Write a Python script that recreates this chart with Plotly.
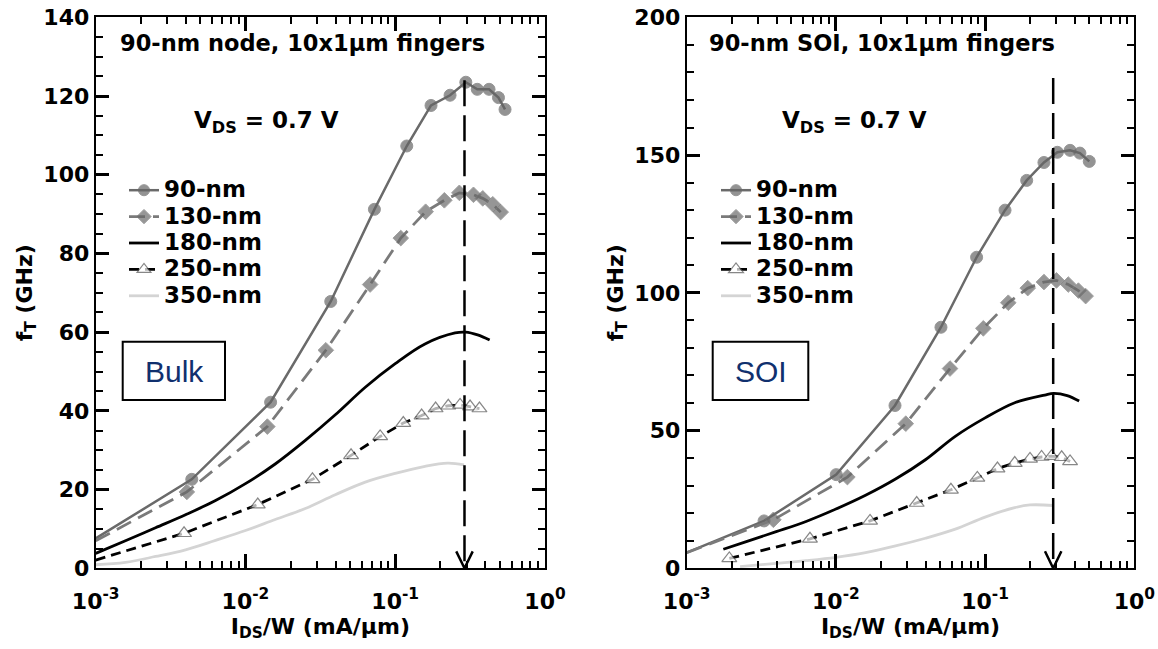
import plotly.graph_objects as go

W, H = 1158, 649

# ---------------- data: Bulk (left panel) ----------------
b90_x = [0.001, 0.00438, 0.01472, 0.0371, 0.0726, 0.1194, 0.1734, 0.2323, 0.296, 0.353, 0.423, 0.489, 0.541]
b90_y = [7.6, 22.6, 42.2, 67.8, 91.2, 107.3, 117.6, 120.2, 123.5, 121.7, 121.7, 119.6, 116.6]

b130_x = [0.001, 0.00406, 0.0140, 0.0344, 0.0680, 0.1089, 0.1596, 0.2128, 0.268, 0.333, 0.384, 0.448, 0.506]
b130_y = [7.0, 19.4, 36.0, 55.4, 72.1, 83.9, 90.6, 93.5, 95.4, 94.9, 94.0, 92.5, 90.5]

b180_x = [0.001, 0.00158, 0.00251, 0.00398, 0.00631, 0.01, 0.0158, 0.0251, 0.0398, 0.0631, 0.1, 0.158, 0.251, 0.295, 0.355, 0.427]
b180_y = [3.8, 7.0, 10.3, 13.6, 17.2, 21.5, 26.5, 32.5, 39.0, 46.0, 52.0, 57.0, 59.8, 60.0, 59.3, 58.0]

b250_x = [0.001, 0.00389, 0.01208, 0.0280, 0.0507, 0.0793, 0.1132, 0.150, 0.186, 0.226, 0.271, 0.316, 0.365]
b250_y = [2.1, 8.9, 16.2, 22.6, 28.7, 33.5, 36.9, 38.8, 40.6, 41.3, 41.5, 41.1, 40.6]

b350_x = [0.001, 0.00158, 0.00251, 0.00398, 0.00631, 0.01, 0.0158, 0.0251, 0.0398, 0.0631, 0.1, 0.158, 0.224, 0.288]
b350_y = [0.9, 1.5, 3.0, 4.7, 7.1, 9.6, 12.4, 15.2, 18.7, 21.9, 24.1, 25.9, 26.7, 26.3]

# ---------------- data: SOI (right panel) ----------------
s90_x = [0.001, 0.00330, 0.01005, 0.0249, 0.0506, 0.0877, 0.136, 0.190, 0.248, 0.305, 0.371, 0.432, 0.499]
s90_y = [5.7, 17.2, 34.0, 59.1, 87.5, 112.9, 130.0, 140.8, 147.3, 151.0, 151.7, 150.7, 147.7]

s130_x = [0.001, 0.00381, 0.01194, 0.0294, 0.0582, 0.0973, 0.143, 0.193, 0.248, 0.301, 0.361, 0.422, 0.472]
s130_y = [5.7, 17.6, 33.1, 52.5, 72.5, 87.1, 96.4, 101.7, 103.9, 104.5, 103.0, 100.8, 98.8]

s180_x = [0.00176, 0.00251, 0.00398, 0.00631, 0.01, 0.0158, 0.0251, 0.0398, 0.0631, 0.1, 0.158, 0.251, 0.288, 0.355, 0.427]
s180_y = [6.9, 9.7, 13.3, 17.0, 21.5, 26.5, 32.4, 39.4, 47.9, 54.6, 60.1, 62.9, 63.5, 62.7, 60.7]

s250_x = [0.00193, 0.00670, 0.01694, 0.0348, 0.0590, 0.0887, 0.121, 0.158, 0.200, 0.239, 0.279, 0.326, 0.371]
s250_y = [3.6, 10.7, 17.2, 23.7, 28.5, 32.8, 36.2, 38.2, 39.7, 40.4, 40.7, 40.3, 38.8]

s350_x = [0.00228, 0.00398, 0.00631, 0.01, 0.0158, 0.0251, 0.0398, 0.0631, 0.1, 0.158, 0.2, 0.288]
s350_y = [0.6, 1.8, 2.8, 4.0, 5.7, 8.1, 10.9, 14.2, 18.6, 22.0, 23.0, 22.8]

# peak-fT current density markers (dashed arrows)
peak_x = [0.29, 0.286]
arrow_top = [124.0, 178.0]

names = ["90-nm", "130-nm", "180-nm", "250-nm", "350-nm"]
x_tickvals = [0.001, 0.01, 0.1, 1]
x_ticktext = ["10<sup>-3</sup>", "10<sup>-2</sup>", "10<sup>-1</sup>", "10<sup>0</sup>"]
x_minor = [m * d for d in (0.001, 0.01, 0.1) for m in range(2, 10)]

FONT = "DejaVu Sans"

fig = go.Figure()


def add_panel(xs, ys, xa, ya, legend):
    (x90, x130, x180, x250, x350) = xs
    (y90, y130, y180, y250, y350) = ys
    lab = lambda n: '<span style="font-size:23px">%s</span>' % n
    sz = [0 if v <= 0.001 else 12 for v in x90]
    fig.add_trace(go.Scatter(x=x90, y=y90, name=lab(names[0]), xaxis=xa, yaxis=ya, legend=legend,
                             mode="lines+markers", line=dict(color="#6a6a6a", width=2.5),
                             marker=dict(symbol="circle", size=sz, color="#666666")))
    sz = [0 if v <= 0.001 else 12 for v in x130]
    fig.add_trace(go.Scatter(x=x130, y=y130, name=lab(names[1]), xaxis=xa, yaxis=ya, legend=legend,
                             mode="lines+markers", line=dict(color="#7a7a7a", width=2.8, dash="16px,8px"),
                             marker=dict(symbol="diamond", size=sz, color="#6a6a6a")))
    fig.add_trace(go.Scatter(x=x180, y=y180, name=lab(names[2]), xaxis=xa, yaxis=ya, legend=legend,
                             mode="lines", line=dict(color="black", width=2.8, shape="spline")))
    sz = [0 if v <= 0.001 else 13 for v in x250]
    fig.add_trace(go.Scatter(x=x250, y=y250, name=lab(names[3]), xaxis=xa, yaxis=ya, legend=legend,
                             mode="lines+markers", line=dict(color="black", width=2.8, dash="10px,6px"),
                             marker=dict(symbol="triangle-up", size=sz, color="white",
                                         line=dict(color="#555555", width=1.2))))
    fig.add_trace(go.Scatter(x=x350, y=y350, name=lab(names[4]), xaxis=xa, yaxis=ya, legend=legend,
                             mode="lines", line=dict(color="#d4d4d4", width=2.8, shape="spline")))


add_panel((b90_x, b130_x, b180_x, b250_x, b350_x), (b90_y, b130_y, b180_y, b250_y, b350_y), "x", "y", "legend")
add_panel((s90_x, s130_x, s180_x, s250_x, s350_x), (s90_y, s130_y, s180_y, s250_y, s350_y), "x2", "y2", "legend2")

for i, (xa, ya) in enumerate((("x", "y"), ("x2", "y2"))):
    px = peak_x[i]
    fig.add_trace(go.Scatter(x=[px, px], y=[arrow_top[i], 0], xaxis=xa, yaxis=ya, mode="lines",
                             line=dict(color="black", width=2.5, dash="26px,9px"), showlegend=False,
                             hoverinfo="skip"))
    head_h = 4.3 if i == 0 else 6.2
    fig.add_trace(go.Scatter(x=[px * 10 ** -0.055, px, px * 10 ** 0.055], y=[head_h, 0, head_h],
                             xaxis=xa, yaxis=ya, mode="lines", line=dict(color="black", width=2.5),
                             showlegend=False, hoverinfo="skip", cliponaxis=False))

# empty traces so that the mirrored (top/right) tick axes get drawn
for xa, ya in (("x3", "y3"), ("x4", "y4")):
    fig.add_trace(go.Scatter(x=[], y=[], xaxis=xa, yaxis=ya, showlegend=False, hoverinfo="skip"))


def px2x(p):
    return p / W


def px2y(p):
    return 1 - p / H


dom_y = [px2y(568.3), px2y(17.3)]
dom_x1 = [px2x(95.7), px2x(545)]
dom_x2 = [px2x(686.7), px2x(1134.3)]

tickfont = dict(family=FONT, size=22, color="black", weight="bold")
titlefont = dict(family=FONT, size=22, color="black", weight="bold")


def make_x(tc):
    xminor = dict(tickmode="array", tickvals=x_minor, ticks="inside", ticklen=7, tickwidth=2,
                  tickcolor=tc, showgrid=False)
    return dict(type="log", range=[-3, 0], tickmode="array", tickvals=x_tickvals, ticktext=x_ticktext,
                ticks="inside", ticklen=14, tickwidth=2.5, tickcolor=tc, showline=True, linewidth=2,
                linecolor="black", mirror=True, showgrid=False, zeroline=False, tickfont=tickfont,
                minor=xminor, automargin=False)


def make_y(tc, r, d, dm):
    return dict(range=r, dtick=d, ticks="inside", ticklen=13, tickwidth=2.5, tickcolor=tc, showline=True,
                linewidth=2, linecolor="black", mirror=True, showgrid=False, zeroline=False,
                tickfont=tickfont, automargin=False,
                minor=dict(dtick=dm, ticks="inside", ticklen=7, tickwidth=2, tickcolor=tc))


MAIN = "#000000"
MIRR = "#000000"

fig.update_layout(
    width=W, height=H, margin=dict(l=0, r=0, t=0, b=0),
    paper_bgcolor="white", plot_bgcolor="white", showlegend=True,
    xaxis=dict(domain=dom_x1, anchor="y", ticklabelstandoff=12,
               title=dict(text="I<sub>DS</sub>/W (mA/μm)", font=titlefont, standoff=4), **make_x(MAIN)),
    yaxis=dict(domain=dom_y, anchor="x",
               title=dict(text="f<sub>T</sub> (GHz)", font=titlefont, standoff=5), **make_y(MAIN, [0, 140], 20, 5)),
    xaxis2=dict(domain=dom_x2, anchor="y2", ticklabelstandoff=12,
                title=dict(text="I<sub>DS</sub>/W (mA/μm)", font=titlefont, standoff=4), **make_x(MAIN)),
    yaxis2=dict(domain=dom_y, anchor="x2",
                title=dict(text="f<sub>T</sub> (GHz)", font=titlefont, standoff=5), **make_y(MAIN, [0, 200], 50, 10)),
    xaxis3=dict(overlaying="x", anchor="y3", side="top", showticklabels=False, **make_x(MIRR)),
    xaxis4=dict(overlaying="x2", anchor="y4", side="top", showticklabels=False, **make_x(MIRR)),
    yaxis3=dict(overlaying="y", anchor="x3", side="right", showticklabels=False, **make_y(MIRR, [0, 140], 20, 5)),
    yaxis4=dict(overlaying="y2", anchor="x4", side="right", showticklabels=False, **make_y(MIRR, [0, 200], 50, 10)),
    legend=dict(x=px2x(124), y=px2y(172), xanchor="left", yanchor="top", bgcolor="rgba(0,0,0,0)",
                font=dict(family=FONT, size=18, color="black", weight="bold"), tracegroupgap=0),
    legend2=dict(x=px2x(716), y=px2y(172), xanchor="left", yanchor="top", bgcolor="rgba(0,0,0,0)",
                 font=dict(family=FONT, size=18, color="black", weight="bold"), tracegroupgap=0),
)

annfont = dict(family=FONT, size=22.5, color="black", weight="bold")
anns = [
    dict(text="90-nm node, 10x1μm fingers", x=px2x(118), y=px2y(43), xanchor="left", yanchor="middle",
         font=annfont),
    dict(text="90-nm SOI, 10x1μm fingers", x=px2x(707), y=px2y(43), xanchor="left", yanchor="middle",
         font=annfont),
    dict(text="V<sub>DS</sub> = 0.7 V", x=px2x(266), y=px2y(122), xanchor="center", yanchor="middle",
         font=dict(annfont, size=23)),
    dict(text="V<sub>DS</sub> = 0.7 V", x=px2x(854), y=px2y(122), xanchor="center", yanchor="middle",
         font=dict(annfont, size=23)),
    dict(text="Bulk", x=px2x(174), y=px2y(371), xanchor="center", yanchor="middle",
         font=dict(family="Liberation Sans", size=30, color="#10306e")),
    dict(text="SOI", x=px2x(760.5), y=px2y(371), xanchor="center", yanchor="middle",
         font=dict(family="Liberation Sans", size=30, color="#10306e")),
]
for a in anns:
    a.update(xref="paper", yref="paper", showarrow=False)
fig.update_layout(annotations=anns)

fig.add_shape(type="rect", xref="paper", yref="paper", x0=px2x(122.7), x1=px2x(225), y0=px2y(400),
              y1=px2y(341.7), line=dict(color="black", width=2), fillcolor="white", layer="above")
fig.add_shape(type="rect", xref="paper", yref="paper", x0=px2x(712.7), x1=px2x(808.3), y0=px2y(400),
              y1=px2y(341.7), line=dict(color="black", width=2), fillcolor="white", layer="above")

fig.write_html("out.html")
